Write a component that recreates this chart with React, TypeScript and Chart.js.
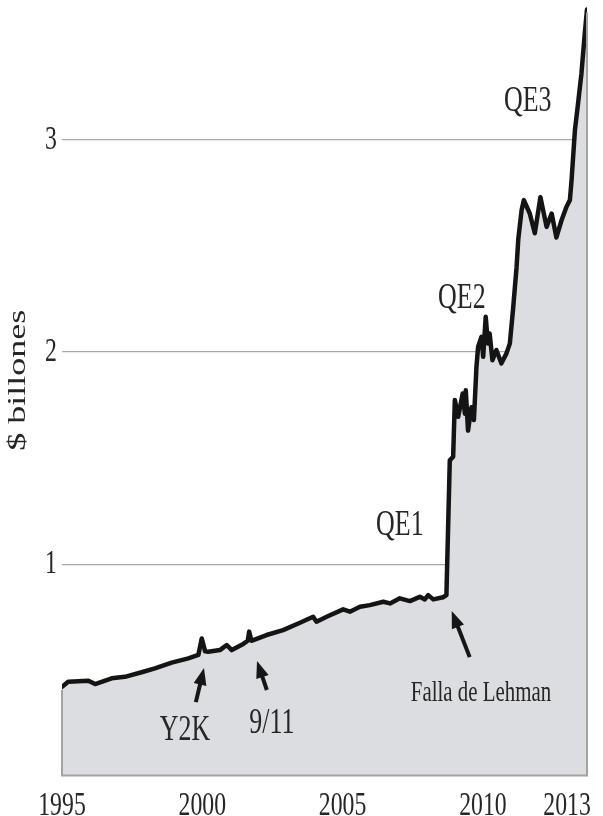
import { useEffect, useRef } from "react";
import { Chart, registerables } from "chart.js";

Chart.register(...registerables);

// ---- data (years as decimal dates, values in $ trillions "billones") ----
const years = [
  1995.0, 1995.22, 1995.94, 1996.18, 1996.77, 1997.24, 1997.9, 1998.31, 1998.91, 1999.5,
  1999.86, 1999.98, 2000.1, 2000.21, 2000.63, 2000.87, 2001.05, 2001.46, 2001.62, 2001.67,
  2001.75, 2001.82, 2002.29, 2002.88, 2003.48, 2003.95, 2004.07, 2004.43, 2005.02, 2005.26,
  2005.62, 2005.97, 2006.45, 2006.69, 2007.04, 2007.4, 2007.75, 2007.93, 2008.05, 2008.23,
  2008.58, 2008.7, 2008.82, 2008.94, 2009.0, 2009.12, 2009.28, 2009.36, 2009.39, 2009.47,
  2009.59, 2009.68, 2009.77, 2009.83, 2009.95, 2010.01, 2010.1, 2010.18, 2010.24, 2010.34,
  2010.48, 2010.66, 2010.84, 2010.96, 2011.08, 2011.2, 2011.26, 2011.38, 2011.46, 2011.67,
  2011.85, 2012.05, 2012.27, 2012.45, 2012.62, 2012.8, 2012.98, 2013.1, 2013.16, 2013.28,
  2013.39, 2013.51, 2013.63, 2013.71,
];
const values = [
  0.423, 0.447, 0.452, 0.436, 0.463, 0.47, 0.494, 0.51, 0.537, 0.557,
  0.573, 0.651, 0.59, 0.588, 0.596, 0.62, 0.596, 0.625, 0.64, 0.683,
  0.64, 0.643, 0.667, 0.69, 0.725, 0.753, 0.73, 0.753, 0.788, 0.777,
  0.8, 0.808, 0.824, 0.816, 0.84, 0.827, 0.847, 0.835, 0.855, 0.835,
  0.845, 0.855, 1.49, 1.507, 1.774, 1.695, 1.805, 1.71, 1.82, 1.63,
  1.74, 1.68, 1.93, 2.025, 2.072, 1.978, 2.166, 2.04, 2.088, 1.962,
  2.01, 1.947, 1.994, 2.04, 2.21, 2.4, 2.53, 2.67, 2.716, 2.653,
  2.56, 2.73, 2.59, 2.653, 2.54, 2.62, 2.685, 2.716, 2.81, 3.046,
  3.17, 3.31, 3.5, 3.614,
];

const xTicks = [1995, 2000, 2005, 2010, 2013];
const yTicks = [1, 2, 3];
const yTitle = "$ billones";

// annotations (text centre x / baseline y, in data units)
const noteLabels = ["Y2K", "9/11", "Falla de Lehman", "QE1", "QE2", "QE3"];
const noteYears = [1999.38, 2002.48, 2009.93, 2007.04, 2009.25, 2011.6];
const noteValues = [0.172, 0.205, 0.356, 1.137, 2.207, 3.135];
const noteSizes = [36, 36, 29, 36, 36, 36];

// arrows (tail -> head, in data units)
const arrowFromYears = [1999.77, 2002.3, 2009.53];
const arrowFromValues = [0.351, 0.408, 0.563];
const arrowToYears = [2000.06, 2001.95, 2008.89];
const arrowToValues = [0.512, 0.545, 0.78];

const FONT = "'Liberation Serif', 'Times New Roman', serif";
const SQUEEZE = 0.72;
const TEXT_COLOR = "#262626";

function drawText(ctx: CanvasRenderingContext2D, text: string, x: number, y: number, size: number, align: CanvasTextAlign, baseline: CanvasTextBaseline) {
  ctx.save();
  ctx.translate(x, y);
  ctx.scale(SQUEEZE, 1);
  ctx.font = `${size}px ${FONT}`;
  ctx.fillStyle = TEXT_COLOR;
  ctx.textAlign = align;
  ctx.textBaseline = baseline;
  ctx.fillText(text, 0, 0);
  ctx.restore();
}

const decorPlugin = {
  id: "decor",
  afterDatasetsDraw(chart: any) {
    const ctx: CanvasRenderingContext2D = chart.ctx;
    const xs = chart.scales.x;
    const ys = chart.scales.y;
    const area = chart.chartArea;

    // grey outline of the filled area
    const xl = xs.getPixelForValue(years[0]);
    const xr = xs.getPixelForValue(years[years.length - 1]);
    const y0 = ys.getPixelForValue(0);
    ctx.save();
    ctx.strokeStyle = "#a2a2a2";
    ctx.lineWidth = 2;
    ctx.beginPath();
    ctx.moveTo(xl, ys.getPixelForValue(values[0]) + 3);
    ctx.lineTo(xl, y0 - 1);
    ctx.lineTo(xr, y0 - 1);
    ctx.lineTo(xr, ys.getPixelForValue(values[values.length - 1]) + 3);
    ctx.stroke();
    ctx.restore();

    // y tick labels
    ys.ticks.forEach((t: any) => {
      drawText(ctx, String(t.value), area.left - 5, ys.getPixelForValue(t.value), 33, "right", "middle");
    });
    // x tick labels
    xs.ticks.forEach((t: any) => {
      drawText(ctx, String(t.value), xs.getPixelForValue(t.value), area.bottom + 38, 33, "center", "alphabetic");
    });

    // y title (rotated)
    ctx.save();
    ctx.translate(area.left - 37, (area.top + area.bottom) / 2 - 10);
    ctx.rotate(-Math.PI / 2);
    ctx.scale(1, SQUEEZE);
    ctx.font = `36px ${FONT}`;
    ctx.fillStyle = TEXT_COLOR;
    ctx.textAlign = "center";
    ctx.textBaseline = "alphabetic";
    ctx.fillText(yTitle, 0, 0);
    ctx.restore();

    // annotation labels
    noteLabels.forEach((lab, i) => {
      drawText(ctx, lab, xs.getPixelForValue(noteYears[i]), ys.getPixelForValue(noteValues[i]), noteSizes[i], "center", "alphabetic");
    });

    // arrows
    ctx.save();
    ctx.strokeStyle = "#161616";
    ctx.fillStyle = "#161616";
    ctx.lineWidth = 4;
    ctx.lineCap = "butt";
    arrowFromYears.forEach((_, i) => {
      const x0 = xs.getPixelForValue(arrowFromYears[i]);
      const y0a = ys.getPixelForValue(arrowFromValues[i]);
      const x1 = xs.getPixelForValue(arrowToYears[i]);
      const y1 = ys.getPixelForValue(arrowToValues[i]);
      const ang = Math.atan2(y1 - y0a, x1 - x0);
      const hl = 17;
      const hw = 6.5;
      const bx = x1 - hl * Math.cos(ang);
      const by = y1 - hl * Math.sin(ang);
      ctx.beginPath();
      ctx.moveTo(x0, y0a);
      ctx.lineTo(bx + 2 * Math.cos(ang), by + 2 * Math.sin(ang));
      ctx.stroke();
      ctx.beginPath();
      ctx.moveTo(x1, y1);
      ctx.lineTo(bx + hw * Math.sin(ang), by - hw * Math.cos(ang));
      ctx.lineTo(bx - hw * Math.sin(ang), by + hw * Math.cos(ang));
      ctx.closePath();
      ctx.fill();
    });
    ctx.restore();
  },
};

export default function App() {
  const ref = useRef<HTMLCanvasElement | null>(null);

  useEffect(() => {
    if (!ref.current) return;
    const chart = new Chart(ref.current, {
      type: "line",
      data: {
        datasets: [
          {
            data: years.map((x, i) => ({ x, y: values[i] })),
            borderColor: "#141414",
            borderWidth: 4.5,
            backgroundColor: "#dcdde1",
            fill: "origin",
            pointRadius: 0,
            tension: 0,
            borderJoinStyle: "round",
            borderCapStyle: "round",
          },
        ],
      },
      options: {
        animation: false,
        responsive: false,
        devicePixelRatio: 1,
        layout: { padding: { top: 4, right: 16, left: 0, bottom: 0 } },
        plugins: { legend: { display: false }, tooltip: { enabled: false } },
        scales: {
          x: {
            type: "linear",
            min: 1995,
            max: 2013.71,
            afterBuildTicks: (s: any) => {
              s.ticks = xTicks.map((v) => ({ value: v }));
            },
            afterFit: (s: any) => {
              s.height = 39.4;
            },
            ticks: { display: false },
            grid: { display: false, drawTicks: false },
            border: { display: false },
          },
          y: {
            min: 0,
            max: 3.64,
            afterBuildTicks: (s: any) => {
              s.ticks = yTicks.map((v) => ({ value: v }));
            },
            afterFit: (s: any) => {
              s.width = 62;
            },
            ticks: { display: false },
            grid: { color: "#a8a8a8", lineWidth: 1.3, drawTicks: false },
            border: { display: false },
          },
        },
      } as any,
      plugins: [decorPlugin],
    });
    return () => chart.destroy();
  }, []);

  return (
    <div style={{ position: "fixed", left: 0, top: 0, width: 603, height: 816, background: "#fff" }}>
      <canvas ref={ref} width={603} height={816} style={{ display: "block" }} />
    </div>
  );
}
